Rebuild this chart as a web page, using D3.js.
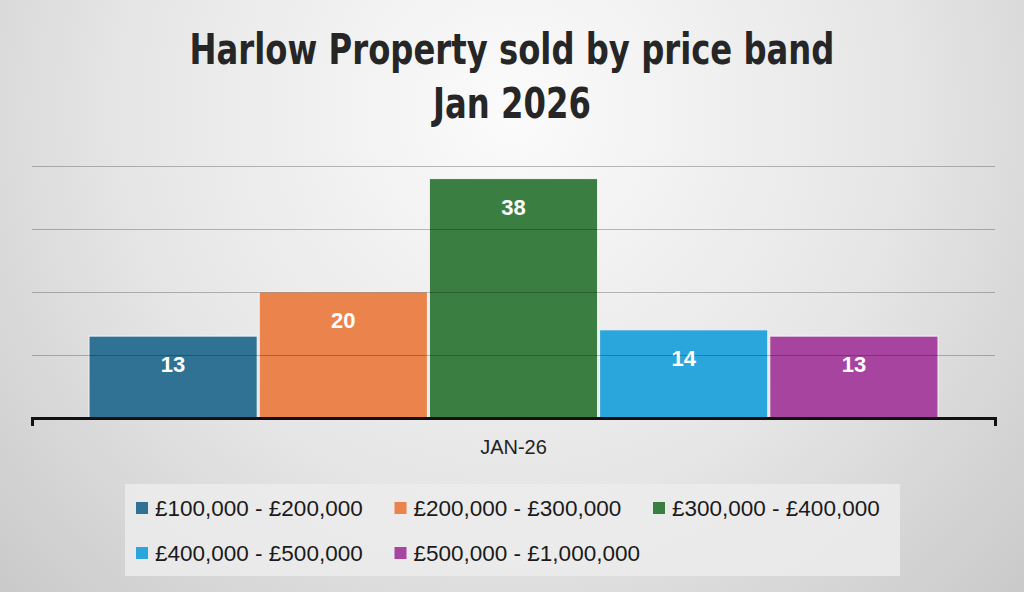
<!DOCTYPE html>
<html>
<head>
<meta charset="utf-8">
<script src="https://cdn.jsdelivr.net/npm/d3@7"></script>
<style>
  html, body { margin: 0; padding: 0; }
  body { width: 1024px; height: 592px; overflow: hidden; }
</style>
</head>
<body>
<script>
// data
var period = 'JAN-26';
var bands = ['£100,000 - £200,000', '£200,000 - £300,000', '£300,000 - £400,000',
             '£400,000 - £500,000', '£500,000 - £1,000,000'];
var sold = [13, 20, 38, 14, 13];
var bandColours = ['#2f7294', '#ea844c', '#3a7f41', '#2ba6dc', '#a6449f'];
var gridTicks = [10, 20, 30, 40];

(function(){

	var w = 1024;
	var h = 592;

	var svg = d3.select('body')
				.append('svg')
				.attr('width', w)
				.attr('height', h);

	// soft radial background like the office chart style
	var defs = svg.append('defs');
	var grad = defs.append('radialGradient')
		.attr('id', 'bg')
		.attr('gradientUnits', 'userSpaceOnUse')
		.attr('cx', 512).attr('cy', 110).attr('r', 700);
	grad.append('stop').attr('offset', '0%').attr('stop-color', '#fbfbfb');
	grad.append('stop').attr('offset', '55%').attr('stop-color', '#e6e6e6');
	grad.append('stop').attr('offset', '100%').attr('stop-color', '#cacaca');

	svg.append('rect')
		.attr('width', w)
		.attr('height', h)
		.attr('fill', 'url(#bg)');

	// title - condensed look: squeeze horizontally to the reference width
	var titleG = svg.append('g');
	var title = titleG.append('text')
		.attr('text-anchor', 'middle')
		.attr('fill', '#262626')
		.style('font-family', '"DejaVu Sans", sans-serif')
		.style('font-weight', 'bold')
		.style('font-size', '43px');
	title.append('tspan').attr('x', 0).attr('y', 64).text('Harlow Property sold by price band');
	title.append('tspan').attr('x', 0).attr('y', 118).text('Jan 2026');
	var tw = title.select('tspan').node().getComputedTextLength();
	var sx = 645 / tw;
	titleG.attr('transform', 'translate(512,0) scale(' + sx + ',1)');

	var x = d3.scaleBand()
		.domain(bands)
		.range([88, 939])
		.padding(0);

	var y = d3.scaleLinear()
		.domain([0, 40])
		.range([418, 166]);

	// bars
	svg.selectAll('rect.bar')
		.data(sold)
		.enter()
		.append('rect')
		.attr('class', 'bar')
		.attr('x', function(d, i){ return x(bands[i]) + 1; })
		.attr('y', function(d){ return y(d); })
		.attr('width', x.bandwidth() - 2)
		.attr('height', function(d){ return y(0) - y(d); })
		.attr('fill', function(d, i){ return bandColours[i]; })
		.attr('stroke', '#f4f4f4')
		.attr('stroke-width', 1);

	// gridlines sit over the bars, faintly
	svg.selectAll('line.grid')
		.data(gridTicks)
		.enter()
		.append('line')
		.attr('class', 'grid')
		.attr('x1', 32)
		.attr('x2', 995)
		.attr('y1', function(d){ return Math.round(y(d)) + 0.5; })
		.attr('y2', function(d){ return Math.round(y(d)) + 0.5; })
		.attr('stroke', '#000')
		.attr('stroke-opacity', 0.25)
		.attr('stroke-width', 1.2);

	// value labels
	svg.selectAll('text.val')
		.data(sold)
		.enter()
		.append('text')
		.attr('class', 'val')
		.attr('x', function(d, i){ return x(bands[i]) + x.bandwidth() / 2; })
		.attr('y', function(d){ return y(d) + 36; })
		.attr('text-anchor', 'middle')
		.attr('fill', '#fff')
		.style('font-family', '"Liberation Sans", Arial, sans-serif')
		.style('font-weight', 'bold')
		.style('font-size', '22px')
		.text(function(d){ return d; });

	// category axis with end ticks
	var xOuter = d3.scaleBand().domain([period]).range([32, 995]);
	var axis = svg.append('g')
		.attr('transform', 'translate(0,' + y(0) + ')')
		.call(d3.axisBottom(xOuter).tickSize(0).tickSizeOuter(8).tickPadding(22));
	axis.select('.domain')
		.attr('stroke', '#111')
		.attr('stroke-width', 3);
	axis.selectAll('text')
		.attr('fill', '#222')
		.style('font-family', '"Liberation Sans", Arial, sans-serif')
		.style('font-size', '20px');

	// legend
	var legend = svg.append('g');
	legend.append('rect')
		.attr('x', 125)
		.attr('y', 484)
		.attr('width', 775)
		.attr('height', 92)
		.attr('fill', '#ececec')
		.attr('fill-opacity', 0.85);

	var item = legend.selectAll('g.item')
		.data(bands)
		.enter()
		.append('g')
		.attr('class', 'item')
		.attr('transform', function(d, i){
			return 'translate(' + (136 + (i % 3) * 258.5) + ',' + (508 + Math.floor(i / 3) * 45) + ')';
		});
	item.append('rect')
		.attr('x', 0)
		.attr('y', -6)
		.attr('width', 12)
		.attr('height', 12)
		.attr('fill', function(d, i){ return bandColours[i]; });
	item.append('text')
		.attr('x', 19)
		.attr('y', 8)
		.attr('fill', '#1a1a1a')
		.style('font-family', '"Liberation Sans", Arial, sans-serif')
		.style('font-size', '22.5px')
		.text(function(d){ return d; });

})();
</script>
</body>
</html>
